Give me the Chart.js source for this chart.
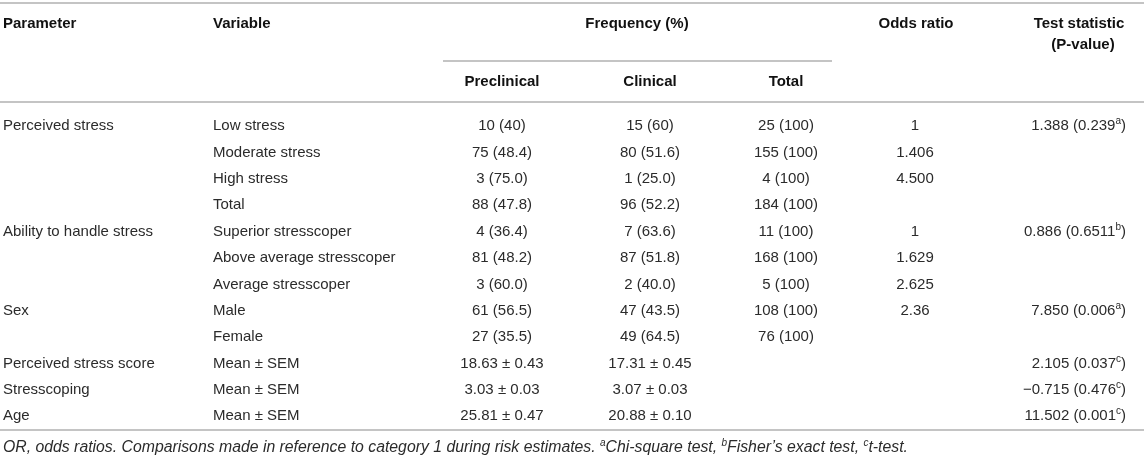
<!DOCTYPE html>
<html>
<head>
<meta charset="utf-8">
<script src="https://cdn.jsdelivr.net/npm/chart.js@4.4.0/dist/chart.umd.min.js"></script>
<style>
  html, body { margin: 0; padding: 0; background: #fff; }
  #wrap { width: 1144px; height: 467px; position: relative; }
</style>
</head>
<body>
<div id="wrap"><canvas id="tableChart"></canvas></div>
<script>
// Table content (one entry per body row)
const parameters = ['Perceived stress', '', '', '', 'Ability to handle stress', '', '', 'Sex', '',
  'Perceived stress score', 'Stresscoping', 'Age'];
const variables = ['Low stress', 'Moderate stress', 'High stress', 'Total', 'Superior stresscoper',
  'Above average stresscoper', 'Average stresscoper', 'Male', 'Female',
  'Mean \u00b1 SEM', 'Mean \u00b1 SEM', 'Mean \u00b1 SEM'];
const preclinical = ['10 (40)', '75 (48.4)', '3 (75.0)', '88 (47.8)', '4 (36.4)', '81 (48.2)', '3 (60.0)',
  '61 (56.5)', '27 (35.5)', '18.63 \u00b1 0.43', '3.03 \u00b1 0.03', '25.81 \u00b1 0.47'];
const clinical = ['15 (60)', '80 (51.6)', '1 (25.0)', '96 (52.2)', '7 (63.6)', '87 (51.8)', '2 (40.0)',
  '47 (43.5)', '49 (64.5)', '17.31 \u00b1 0.45', '3.07 \u00b1 0.03', '20.88 \u00b1 0.10'];
const totals = ['25 (100)', '155 (100)', '4 (100)', '184 (100)', '11 (100)', '168 (100)', '5 (100)',
  '108 (100)', '76 (100)', '', '', ''];
const oddsRatios = ['1', '1.406', '4.500', '', '1', '1.629', '2.625', '2.36', '', '', '', ''];
// "^x" marks a superscript letter
const testStats = ['1.388 (0.239^a)', '', '', '', '0.886 (0.6511^b)', '', '', '7.850 (0.006^a)', '',
  '2.105 (0.037^c)', '\u22120.715 (0.476^c)', '11.502 (0.001^c)'];
const footnote = 'OR, odds ratios. Comparisons made in reference to category 1 during risk estimates. ' +
  '^aChi-square test, ^bFisher\u2019s exact test, ^ct-test.';

// Layout (x in canvas units, y in row units)
const columns = [
  { cells: parameters, x: 3, align: 'left' },
  { cells: variables, x: 213, align: 'left' },
  { cells: preclinical, x: 502, align: 'center' },
  { cells: clinical, x: 650, align: 'center' },
  { cells: totals, x: 786, align: 'center' },
  { cells: oddsRatios, x: 915, align: 'center' },
  { cells: testStats, x: 1126, align: 'right' }
];
const headers = [
  { text: 'Parameter', x: 3, row: -3.86, align: 'left' },
  { text: 'Variable', x: 213, row: -3.86, align: 'left' },
  { text: 'Frequency (%)', x: 637, row: -3.86, align: 'center' },
  { text: 'Odds ratio', x: 916, row: -3.86, align: 'center' },
  { text: 'Test statistic', x: 1079, row: -3.86, align: 'center' },
  { text: '(P-value)', x: 1083, row: -3.03, align: 'center' },
  { text: 'Preclinical', x: 502, row: -1.65, align: 'center' },
  { text: 'Clinical', x: 650, row: -1.65, align: 'center' },
  { text: 'Total', x: 786, row: -1.65, align: 'center' }
];
const rules = [
  { from: 0, to: 1144, row: -4.636 },
  { from: 443, to: 832, row: -2.435 },
  { from: 0, to: 1144, row: -0.879 },
  { from: 0, to: 1144, row: 11.57 }
];

const FONT = '"Liberation Sans", Arial, Helvetica, sans-serif';

function toRuns(str) {
  const runs = [];
  const re = /\^(\w)/g;
  let last = 0, m;
  while ((m = re.exec(str)) !== null) {
    if (m.index > last) runs.push({ t: str.slice(last, m.index), sup: false });
    runs.push({ t: m[1], sup: true });
    last = m.index + m[0].length;
  }
  if (last < str.length) runs.push({ t: str.slice(last), sup: false });
  return runs;
}

function drawRuns(ctx, str, x, y, align, style, size) {
  const runs = toRuns(str);
  const mainFont = style + ' ' + size + 'px ' + FONT;
  const supFont = style + ' ' + Math.round(size * 0.66) + 'px ' + FONT;
  let width = 0;
  runs.forEach(r => {
    ctx.font = r.sup ? supFont : mainFont;
    r.w = ctx.measureText(r.t).width;
    width += r.w;
  });
  let cx = align === 'left' ? x : align === 'right' ? x - width : x - width / 2;
  ctx.textAlign = 'left';
  ctx.textBaseline = 'middle';
  runs.forEach(r => {
    ctx.font = r.sup ? supFont : mainFont;
    ctx.fillText(r.t, cx, r.sup ? y - size * 0.3 : y);
    cx += r.w;
  });
}

const tablePlugin = {
  id: 'tablePlugin',
  afterDraw(chart) {
    const ctx = chart.ctx;
    const xs = chart.scales.x;
    const ys = chart.scales.y;
    ctx.save();

    // rules
    ctx.strokeStyle = '#b0b0b0';
    ctx.lineWidth = 1.5;
    rules.forEach(r => {
      const y = ys.getPixelForValue(r.row);
      ctx.beginPath();
      ctx.moveTo(xs.getPixelForValue(r.from), y);
      ctx.lineTo(xs.getPixelForValue(r.to), y);
      ctx.stroke();
    });

    // headers
    ctx.fillStyle = '#111';
    headers.forEach(h => {
      drawRuns(ctx, h.text, xs.getPixelForValue(h.x), ys.getPixelForValue(h.row), h.align, 'bold', 15);
    });

    // body cells
    ctx.fillStyle = '#2b2b2b';
    columns.forEach(col => {
      col.cells.forEach((txt, i) => {
        if (!txt) return;
        drawRuns(ctx, txt, xs.getPixelForValue(col.x), ys.getPixelForValue(i + 0.04), col.align, 'normal', 15);
      });
    });

    // footnote
    drawRuns(ctx, footnote, xs.getPixelForValue(3), ys.getPixelForValue(12.24), 'left', 'italic', 15.8);
    ctx.restore();
  }
};

new Chart(document.getElementById('tableChart').getContext('2d'), {
  type: 'scatter',
  data: { datasets: [] },
  options: {
    responsive: true,
    maintainAspectRatio: false,
    animation: false,
    layout: { padding: 0 },
    plugins: { legend: { display: false }, tooltip: { enabled: false } },
    scales: {
      x: { type: 'linear', min: 0, max: 1144, display: false },
      y: { type: 'linear', min: -4.75, max: 12.97, reverse: true, display: false }
    }
  },
  plugins: [tablePlugin]
});
</script>
</body>
</html>
